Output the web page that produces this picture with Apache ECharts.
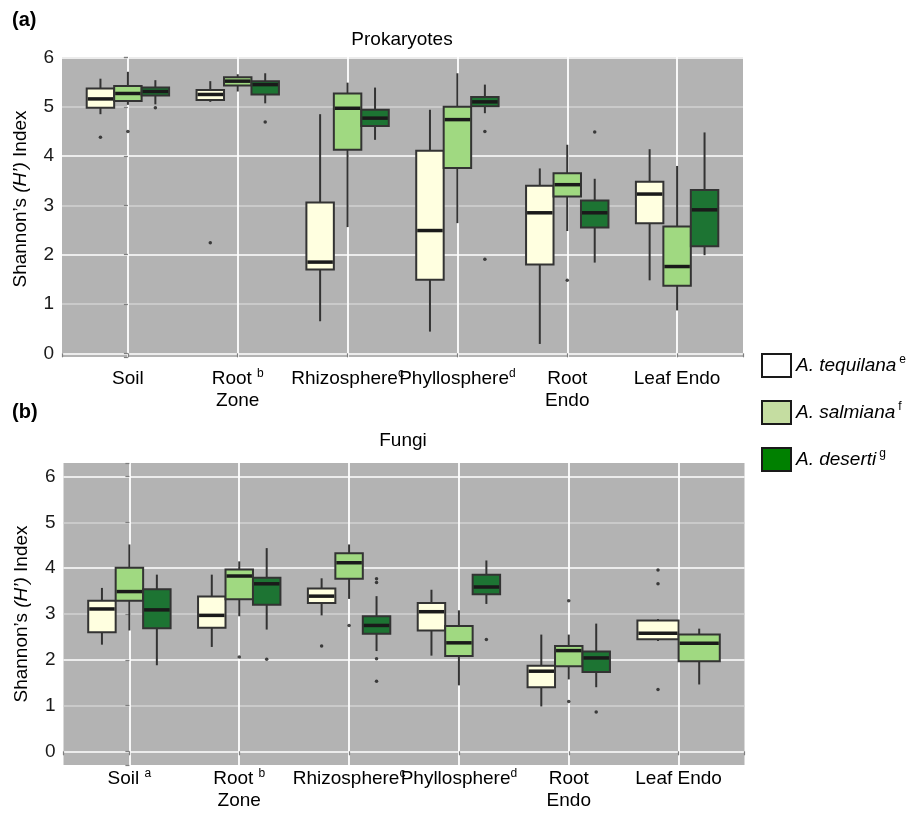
<!DOCTYPE html>
<html>
<head>
<meta charset="utf-8">
<script src="https://cdn.jsdelivr.net/npm/echarts@6/dist/echarts.min.js"></script>
<style>
html,body{margin:0;padding:0;background:#ffffff;}
#c{width:909px;height:815px;}
</style>
</head>
<body>
<div id="c"></div>
<script>
// ---------------- data ----------------
const categories = ['Soil', 'Root Zone', 'Rhizosphere', 'Phyllosphere', 'Root Endo', 'Leaf Endo'];
const species = ['A. tequilana', 'A. salmiana', 'A. deserti'];
const speciesSup = ['e', 'f', 'g'];
const topTickLabels = ['Soil', 'Root {sup|b}\nZone', 'Rhizosphere{sup|c}', 'Phyllosphere{sup|d}', 'Root\nEndo', 'Leaf Endo'];
const bottomTickLabels = ['Soil {sup|a}', 'Root {sup|b}\nZone', 'Rhizosphere{sup|c}', 'Phyllosphere{sup|d}', 'Root\nEndo', 'Leaf Endo'];
const yTickValues = [0, 1, 2, 3, 4, 5, 6];

// Prokaryotes: [low whisker, Q1, median, Q3, high whisker] per category
const proTequilana = [[4.85,4.98,5.16,5.37,5.57],[5.10,5.14,5.25,5.34,5.52],[0.65,1.70,1.85,3.06,4.85],[0.44,1.49,2.49,4.11,4.94],[0.19,1.80,2.85,3.40,3.75],[1.48,2.64,3.23,3.48,4.14]];
const proSalmiana  = [[5.04,5.12,5.27,5.42,5.71],[5.31,5.43,5.52,5.60,5.66],[2.56,4.13,4.97,5.27,5.49],[2.64,3.76,4.74,5.00,5.68],[2.48,3.18,3.42,3.65,4.23],[0.87,1.37,1.76,2.57,3.80]];
const proDeserti   = [[5.05,5.23,5.31,5.39,5.54],[5.07,5.25,5.45,5.52,5.68],[4.33,4.61,4.77,4.94,5.39],[4.87,5.01,5.10,5.20,5.45],[1.84,2.55,2.85,3.10,3.54],[1.99,2.17,2.91,3.31,4.48]];
// outliers: [category index, value]
const proTequilanaOut = [[0,4.38],[1,2.24]];
const proSalmianaOut  = [[0,4.50],[4,1.48]];
const proDesertiOut   = [[0,4.98],[1,4.69],[3,4.50],[3,1.91],[4,4.49]];

// Fungi
const funTequilana = [[2.33,2.60,3.11,3.29,3.57],[2.28,2.70,2.97,3.38,3.86],[2.97,3.24,3.39,3.56,3.78],[2.09,2.64,3.05,3.24,3.53],[0.98,1.40,1.75,1.87,2.55],[2.41,2.45,2.58,2.86,2.89]];
const funSalmiana  = [[2.64,3.29,3.49,4.01,4.52],[2.95,3.32,3.83,3.97,4.15],[3.33,3.77,4.12,4.33,4.52],[1.44,2.08,2.37,2.74,3.08],[1.57,1.86,2.20,2.30,2.55],[1.46,1.97,2.36,2.55,2.68]];
const funDeserti   = [[1.88,2.69,3.09,3.54,3.86],[2.66,3.20,3.66,3.79,4.44],[2.19,2.57,2.75,2.95,3.39],[3.22,3.43,3.59,3.86,4.17],[1.40,1.73,2.04,2.18,2.79],null];
const funTequilanaOut = [[2,2.30],[5,3.96],[5,3.66],[5,1.35]];
const funSalmianaOut  = [[1,2.06],[2,2.75],[4,3.29],[4,1.09]];
const funDesertiOut   = [[1,2.01],[2,3.77],[2,3.69],[2,2.02],[2,1.53],[3,2.44],[4,0.86]];

// ---------------- styling ----------------
const FONT = 'Liberation Sans, Arial, Helvetica, sans-serif';
const BOX_COLORS = ['#FFFFE0', '#A0D981', '#1D7433'];
const LEGEND_COLORS = ['#FFFFFF', '#C5DDA1', '#008000'];
const PANEL_BG = '#B3B3B3';
const MAJOR = '#FFFFFF';
const MINOR = '#D2D2D2';
const DODGE = 0.75;

const panels = [
  { boxes: [proTequilana, proSalmiana, proDeserti], outs: [proTequilanaOut, proSalmianaOut, proDesertiOut], labels: topTickLabels,
    yMin: -0.075, yMax: 6.01, labelMargin: 11, namePad: [0, 0, 0, 16] },
  { boxes: [funTequilana, funSalmiana, funDeserti], outs: [funTequilanaOut, funSalmianaOut, funDesertiOut], labels: bottomTickLabels,
    yMin: -0.3, yMax: 6.3, labelMargin: 3, namePad: [0, 0, 0, 0] }
];

// dodge position for species s in category c
function dodge(panel, c, s) {
  const present = [];
  panel.boxes.forEach((arr, k) => { if (arr[c]) present.push(k); });
  const n = present.length;
  const w = DODGE / n;
  const j = present.indexOf(s);
  return { center: c + (j - (n - 1) / 2) * w, half: w / 2 };
}

const supRich = {
  sup: { fontSize: 12, lineHeight: 2, verticalAlign: 'top', fontFamily: FONT, color: '#000' }
};

function isInt(v) { return Math.abs(v - Math.round(v)) < 1e-6; }

const grids = [
  { left: 62, width: 681, top: 57, height: 300 },
  { left: 63.5, width: 681, top: 463, height: 302 }
].map(g => Object.assign(g, { show: true, backgroundColor: PANEL_BG, borderWidth: 0, containLabel: false }));

const xAxes = panels.map((p, i) => ({
  type: 'value', gridIndex: i, min: -0.6, max: 5.6,
  axisLine: { show: false },
  axisTick: { show: true, length: 4, lineStyle: { color: '#7F7F7F', width: 1.2 } },
  axisLabel: {
    margin: p.labelMargin, fontSize: 19, lineHeight: 22, color: '#000', fontFamily: FONT,
    formatter: v => (isInt(v) && Math.round(v) >= 0 && Math.round(v) <= 5) ? p.labels[Math.round(v)] : '',
    rich: supRich
  },
  splitLine: { show: true, lineStyle: { color: ['transparent', MAJOR, MAJOR, MAJOR, MAJOR, MAJOR, MAJOR, 'transparent'], width: 1.8 } }
}));

const yAxes = panels.map((p, i) => ({
  type: 'value', gridIndex: i, min: p.yMin, max: p.yMax,
  name: 'Shannon\u2019s {it|(H\u2019)} Index',
  nameLocation: 'middle', nameRotate: 90, nameGap: 32,
  nameTextStyle: { fontSize: 19, color: '#000', fontFamily: FONT, padding: p.namePad,
    rich: { it: { fontStyle: 'italic', fontSize: 19, fontFamily: FONT, color: '#000' } } },
  axisLine: { show: false },
  axisTick: { show: true, length: 4, lineStyle: { color: '#7F7F7F', width: 1.2 } },
  axisLabel: { margin: 8, fontSize: 19, color: '#1A1A1A', fontFamily: FONT,
    formatter: v => (isInt(v) && yTickValues.indexOf(Math.round(v)) >= 0) ? String(Math.round(v)) : '' },
  splitLine: { show: true, lineStyle: { color: ['transparent', MAJOR, MINOR, MAJOR, MINOR, MAJOR, MINOR, MAJOR, 'transparent'], width: 1.6 } }
}));

const series = [];
panels.forEach((p, pi) => {
  p.boxes.forEach((arr, s) => {
    const data = [];
    arr.forEach((b, c) => {
      if (!b) return;
      const d = dodge(p, c, s);
      data.push([d.center, b[0], b[1], b[2], b[3], b[4], d.half]);
    });
    series.push({
      type: 'custom', name: species[s], xAxisIndex: pi, yAxisIndex: pi, z: 2,
      itemStyle: { color: BOX_COLORS[s] },
      encode: { x: 0, y: [1, 2, 3, 4, 5] },
      clip: true,
      data: data,
      renderItem: (params, api) => {
        const xc = api.value(0), hw = api.value(6);
        const left = api.coord([xc - hw, api.value(2)]);
        const right = api.coord([xc + hw, api.value(4)]);
        const xm = api.coord([xc, api.value(1)])[0];
        const yLow = api.coord([xc, api.value(1)])[1];
        const yQ1 = left[1], yQ3 = right[1];
        const yMed = api.coord([xc, api.value(3)])[1];
        const yHigh = api.coord([xc, api.value(5)])[1];
        const st = '#333333';
        return {
          type: 'group',
          children: [
            { type: 'line', shape: { x1: xm, y1: yHigh, x2: xm, y2: yQ3 }, style: { stroke: st, lineWidth: 2 } },
            { type: 'line', shape: { x1: xm, y1: yQ1, x2: xm, y2: yLow }, style: { stroke: st, lineWidth: 2 } },
            { type: 'rect', shape: { x: left[0], y: yQ3, width: right[0] - left[0], height: yQ1 - yQ3 },
              style: { fill: BOX_COLORS[s], stroke: st, lineWidth: 2 } },
            { type: 'line', shape: { x1: left[0] + 1, y1: yMed, x2: right[0] - 1, y2: yMed }, style: { stroke: '#1A1A1A', lineWidth: 3.5 } }
          ]
        };
      }
    });
  });
  p.outs.forEach((arr, s) => {
    series.push({
      type: 'scatter', name: species[s] + ' outliers', xAxisIndex: pi, yAxisIndex: pi, z: 3,
      symbol: 'circle', symbolSize: 3.5,
      itemStyle: { color: '#1A1A1A' },
      silent: true,
      data: arr.map(o => [dodge(p, o[0], s).center, o[1]])
    });
  });
});

const option = {
  backgroundColor: '#ffffff',
  animation: false,
  textStyle: { fontFamily: FONT },
  grid: grids,
  xAxis: xAxes,
  yAxis: yAxes,
  legend: {
    orient: 'vertical', left: 761, top: 353, padding: 0,
    icon: 'rect', itemWidth: 29, itemHeight: 23, itemGap: 22,
    selectedMode: false,
    data: species.map((n, i) => ({ name: n, itemStyle: { color: LEGEND_COLORS[i], borderColor: '#1A1A1A', borderWidth: 2 } })),
    formatter: name => '{it|' + name + '}{sup|' + speciesSup[species.indexOf(name)] + '}',
    textStyle: {
      color: '#000', fontSize: 19, lineHeight: 23, fontFamily: FONT,
      rich: {
        it: { fontStyle: 'italic', fontSize: 19, lineHeight: 23, fontFamily: FONT, color: '#000' },
        sup: { fontSize: 12, lineHeight: 10, verticalAlign: 'top', fontFamily: FONT, color: '#000', padding: [0, 0, 0, 3] }
      }
    }
  },
  graphic: [
    { type: 'text', x: 12, y: 20, style: { text: '(a)', fontSize: 20, fontWeight: 'bold', fontFamily: FONT, fill: '#000', align: 'left', verticalAlign: 'middle' } },
    { type: 'text', x: 402, y: 40, style: { text: 'Prokaryotes', fontSize: 19, fontFamily: FONT, fill: '#000', align: 'center', verticalAlign: 'middle' } },
    { type: 'text', x: 12, y: 412, style: { text: '(b)', fontSize: 20, fontWeight: 'bold', fontFamily: FONT, fill: '#000', align: 'left', verticalAlign: 'middle' } },
    { type: 'text', x: 403, y: 441, style: { text: 'Fungi', fontSize: 19, fontFamily: FONT, fill: '#000', align: 'center', verticalAlign: 'middle' } }
  ],
  series: series
};

const chart = echarts.init(document.getElementById('c'));
chart.setOption(option);
</script>
</body>
</html>
